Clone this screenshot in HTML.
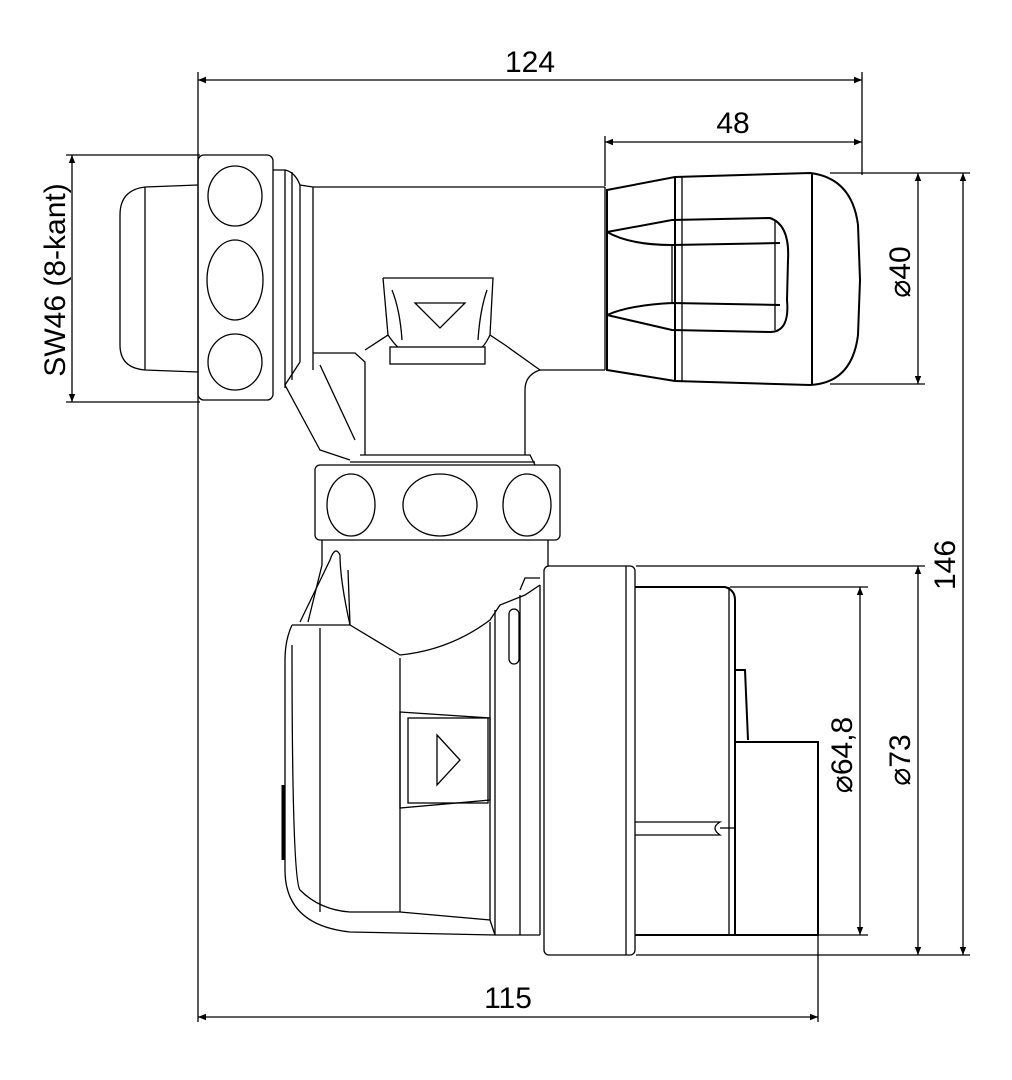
<!DOCTYPE html>
<html><head><meta charset="utf-8"><style>
html,body{margin:0;padding:0;background:#fff;}
svg{display:block;}
text{font-family:"Liberation Sans",sans-serif;font-size:30px;fill:#000;}
</style></head><body>
<svg width="1012" height="1080" viewBox="0 0 1012 1080" xmlns="http://www.w3.org/2000/svg">
<defs>
<marker id="a" viewBox="0 0 10 10" refX="10" refY="5" markerWidth="16" markerHeight="8" markerUnits="userSpaceOnUse" orient="auto-start-reverse"><path d="M0,1 L10,5 L0,9 z" fill="#000"/></marker>
</defs>
<g stroke="#000" fill="none" stroke-width="1.3">
<!-- extension lines -->
<line x1="198" y1="72" x2="198" y2="1022"/>
<line x1="862" y1="72" x2="862" y2="175"/>
<line x1="605" y1="136" x2="605" y2="186"/>
<line x1="66" y1="155" x2="200" y2="155"/>
<line x1="66" y1="402" x2="200" y2="402"/>
<line x1="830" y1="173" x2="970" y2="173"/>
<line x1="830" y1="384" x2="925" y2="384"/>
<line x1="636" y1="566" x2="925" y2="566"/>
<line x1="636" y1="955" x2="970" y2="955"/>
<line x1="730" y1="587" x2="868" y2="587"/>
<line x1="818" y1="935" x2="868" y2="935"/>
<line x1="818" y1="935" x2="818" y2="1022"/>
<!-- dimension lines -->
<line x1="198" y1="80" x2="862" y2="80" marker-start="url(#a)" marker-end="url(#a)"/>
<line x1="605" y1="142" x2="862" y2="142" marker-start="url(#a)" marker-end="url(#a)"/>
<line x1="72" y1="155" x2="72" y2="402" marker-start="url(#a)" marker-end="url(#a)"/>
<line x1="918" y1="173" x2="918" y2="384" marker-start="url(#a)" marker-end="url(#a)"/>
<line x1="963" y1="173" x2="963" y2="955" marker-start="url(#a)" marker-end="url(#a)"/>
<line x1="918" y1="566" x2="918" y2="955" marker-start="url(#a)" marker-end="url(#a)"/>
<line x1="860" y1="587" x2="860" y2="935" marker-start="url(#a)" marker-end="url(#a)"/>
<line x1="198" y1="1017" x2="818" y2="1017" marker-start="url(#a)" marker-end="url(#a)"/>

<!-- left cap -->
<path d="M198,185 L145,187 Q120,190 120,215 L120,345 Q120,368 145,370 L198,372"/>
<line x1="145" y1="187" x2="145" y2="370"/>
<!-- left nut -->
<rect x="198" y="155" width="75" height="245" rx="6"/>
<ellipse cx="235" cy="196" rx="27" ry="30"/>
<ellipse cx="235" cy="280" rx="28" ry="40"/>
<ellipse cx="235" cy="362" rx="27" ry="28"/>
<!-- neck -->
<path d="M273,170 L285,170 Q295,172 300,185 L313,187 L313,370"/>
<line x1="285" y1="170" x2="285" y2="388"/>
<line x1="292" y1="172" x2="292" y2="380"/>
<line x1="300" y1="185" x2="300" y2="362"/>
<!-- body pipe -->
<line x1="313" y1="187" x2="605" y2="187"/>
<line x1="605" y1="187" x2="605" y2="370"/>
<path d="M540,370 L605,370"/>
<path d="M540,370 Q525,375 525,390 L525,455"/>
<path d="M313,353 L355,353 L365,362 L365,455"/>
<path d="M300,362 L285,385 L320,450 L350,460"/>
<line x1="320" y1="365" x2="355" y2="440"/>
<!-- top square valve -->
<path d="M383,278 L493,278 L490,335 L505,345 L540,370"/>
<path d="M383,278 L388,335 L365,350"/>
<rect x="390" y="347" width="95" height="17"/>
<path d="M388,335 Q395,345 398,347 M490,335 Q485,345 482,347"/>
<path d="M392,290 Q400,310 402,340 M487,290 Q480,310 478,340"/>
<path d="M415,303 L465,303 L440,328 Z"/>
<!-- ring -->
<path d="M360,455 L530,455 L535,465"/>
<line x1="350" y1="462" x2="535" y2="462"/>
<!-- middle nut -->
<rect x="315" y="465" width="245" height="75" rx="5"/>
<ellipse cx="351" cy="505" rx="24" ry="31"/>
<ellipse cx="440" cy="505" rx="37" ry="31"/>
<ellipse cx="527" cy="505" rx="24" ry="31"/>
<line x1="322" y1="540" x2="322" y2="565"/>
<line x1="548" y1="540" x2="548" y2="566"/>
<!-- lower housing -->
<path d="M292,625 L350,625 Q340,580 340,555 Q335,545 330,560 L300,622"/>
<line x1="322" y1="565" x2="308" y2="622"/>
<line x1="348" y1="570" x2="350" y2="625"/>
<path d="M350,625 L400,655 Q450,650 490,620 L500,605 L525,595 L540,585"/>
<path d="M540,578 L525,578 L520,590"/>
<path d="M292,625 Q285,640 285,660 L285,870 Q285,925 350,932 L495,935"/>
<path d="M292,645 Q292,880 300,890 Q320,910 350,912 L400,912 L490,920 L495,935"/>
<line x1="320" y1="628" x2="320" y2="912"/>
<line x1="400" y1="658" x2="400" y2="912"/>
<line x1="490" y1="622" x2="490" y2="920"/>
<line x1="495" y1="610" x2="495" y2="935"/>
<line x1="520" y1="595" x2="520" y2="935"/>
<line x1="540" y1="585" x2="540" y2="935"/>
<line x1="495" y1="935" x2="540" y2="935"/>
<rect x="509" y="609" width="10" height="55" rx="5"/>
<path d="M283,785 L283,860" stroke-width="3"/>
<!-- button -->
<path d="M400,712 L490,718 L490,800 L400,808 Z"/>
<rect x="408" y="718" width="80" height="85"/>
<path d="M437,735 L460,760 L437,785 Z"/>
<!-- flange -->
<rect x="544" y="566" width="91" height="389" rx="5"/>
<line x1="626" y1="566" x2="626" y2="955"/>
<!-- right block -->
<path d="M635,587 L725,587 Q735,590 735,600 L735,935 L635,935" stroke-width="2"/>
<line x1="729" y1="587" x2="729" y2="935"/>
<path d="M635,822 L720,822 Q710,828 720,835 L635,835"/>
<line x1="720" y1="828" x2="735" y2="828"/>
<rect x="735" y="742" width="83" height="193" stroke-width="2"/>
<path d="M735,670 L745,670 L748,740" stroke-width="2"/>
<!-- right handle -->
<path d="M607,190 L675,177 L810,173 Q852,178 858,225 L860,280 L858,335 Q852,383 810,385 L675,381 L607,370 Z" stroke-width="2"/>
<line x1="675" y1="177" x2="675" y2="381" stroke-width="2"/>
<line x1="682" y1="177" x2="682" y2="381"/>
<line x1="812" y1="174" x2="812" y2="384" stroke-width="2"/>
<path d="M607,232 L672,220 L770,218 Q790,225 788,260 L787,300 Q790,332 770,332 L672,330 L607,315" stroke-width="2"/>
<path d="M607,232 Q630,245 672,245 L780,243 M607,315 Q630,305 672,303 L780,305" stroke-width="2"/>
<line x1="672" y1="245" x2="672" y2="303"/>
<line x1="775" y1="220" x2="775" y2="330"/>
</g>
<text x="530" y="72" text-anchor="middle">124</text>
<text x="733" y="133" text-anchor="middle">48</text>
<text x="508" y="1008" text-anchor="middle">115</text>
<text transform="translate(65,280) rotate(-90)" text-anchor="middle">SW46 (8-kant)</text>
<text transform="translate(910,272) rotate(-90)" text-anchor="middle">⌀40</text>
<text transform="translate(955,565) rotate(-90)" text-anchor="middle">146</text>
<text transform="translate(910,760) rotate(-90)" text-anchor="middle">⌀73</text>
<text transform="translate(852,755) rotate(-90)" text-anchor="middle">⌀64,8</text>
</svg>
</body></html>
